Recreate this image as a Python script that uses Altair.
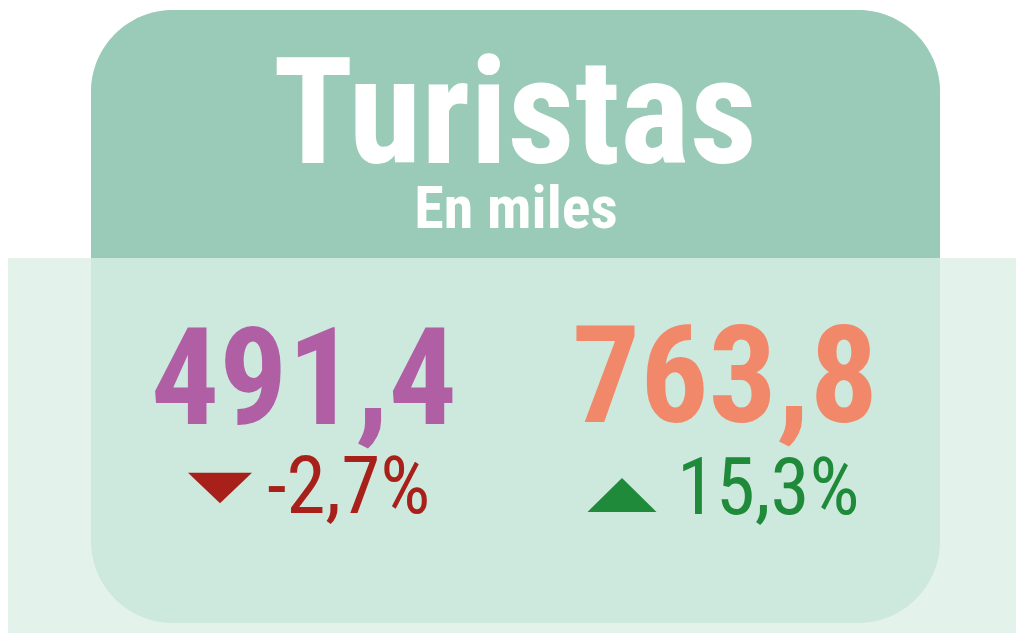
import altair as alt
import pandas as pd

# content
title = "Turistas"
subtitle = "En miles"
values = ["491,4", "763,8"]
changes = ["-2,7%", "15,3%"]
trend = ["down", "up"]
value_colors = ["#b05fa5", "#f2886a"]
change_colors = ["#a8201a", "#1f8a3a"]

# layout (page pixels)
col_center = [304, 725]
change_left = [267, 677]
arrow_x = [220, 622]
arrow_y = [488, 495]
arrow_size = [4096, 4761]
arrow_shape = {
    "down": "M-1,-0.48L1,-0.48L0,0.48Z",
    "up": "M-1,0.49L1,0.49L0,-0.49Z",
}

FONT = "Roboto Condensed, Open Sans Condensed, sans-serif"
W, H = 1008, 625

xs = alt.Scale(domain=[8, 8 + W], nice=False, zero=False)
ys = alt.Scale(domain=[8, 8 + H], nice=False, zero=False, reverse=True)


def X(f):
    return alt.X(f, type="quantitative", scale=xs, axis=None)


def Y(f):
    return alt.Y(f, type="quantitative", scale=ys, axis=None)


shapes = pd.DataFrame({
    "x": [0, 91, 91],
    "x2": [1024, 940, 940],
    "y": [258, 10, 10],
    "y2": [641, 623, 258],
    "c": ["#e4f2ec", "#cde8dc", "#99cbb8"],
})

band = alt.Chart(shapes.iloc[[0]]).mark_rect(clip=True).encode(
    x=X("x"), x2="x2", y=Y("y"), y2="y2",
    color=alt.Color("c:N", scale=None),
)
card = alt.Chart(shapes.iloc[[1]]).mark_rect(cornerRadius=82).encode(
    x=X("x"), x2="x2", y=Y("y"), y2="y2",
    color=alt.Color("c:N", scale=None),
)
card_top = alt.Chart(shapes.iloc[[2]]).mark_rect(
    cornerRadiusTopLeft=82, cornerRadiusTopRight=82,
).encode(
    x=X("x"), x2="x2", y=Y("y"), y2="y2",
    color=alt.Color("c:N", scale=None),
)

heads = pd.DataFrame({
    "t": [title, subtitle],
    "x": [515, 516],
    "y": [163, 228],
    "s": [148, 60],
})
head_text = alt.Chart(heads).mark_text(
    font=FONT, fontWeight="bold", color="white", baseline="alphabetic",
    align="center",
).encode(
    x=X("x"), y=Y("y"), text="t:N",
    size=alt.Size("s:Q", scale=None),
)

nums = pd.DataFrame({
    "t": values,
    "x": col_center,
    "y": [424, 422],
    "c": value_colors,
})
num_text = alt.Chart(nums).mark_text(
    font=FONT, fontWeight="bold", fontSize=135, baseline="alphabetic",
    align="center",
).encode(
    x=X("x"), y=Y("y"), text="t:N",
    color=alt.Color("c:N", scale=None),
)

chg = pd.DataFrame({
    "t": changes,
    "x": change_left,
    "y": [513, 514],
    "c": change_colors,
})
chg_text = alt.Chart(chg).mark_text(
    font=FONT, fontWeight="normal", fontSize=79, baseline="alphabetic",
    align="left",
).encode(
    x=X("x"), y=Y("y"), text="t:N",
    color=alt.Color("c:N", scale=None),
)

arrows = pd.DataFrame({
    "x": arrow_x,
    "y": arrow_y,
    "c": change_colors,
    "shape": [arrow_shape[t] for t in trend],
    "size": arrow_size,
})
arrow_marks = alt.Chart(arrows).mark_point(filled=True, opacity=1).encode(
    x=X("x"), y=Y("y"),
    color=alt.Color("c:N", scale=None),
    shape=alt.Shape("shape:N", scale=None),
    size=alt.Size("size:Q", scale=None),
)

chart = alt.layer(
    band, card, card_top, head_text, num_text, chg_text, arrow_marks,
).properties(
    width=W,
    height=H,
    padding=0,
    autosize=alt.AutoSizeParams(type="none"),
).configure_view(
    stroke=None,
)

chart.save("out.html", embed_options={"renderer": "svg", "actions": False})
